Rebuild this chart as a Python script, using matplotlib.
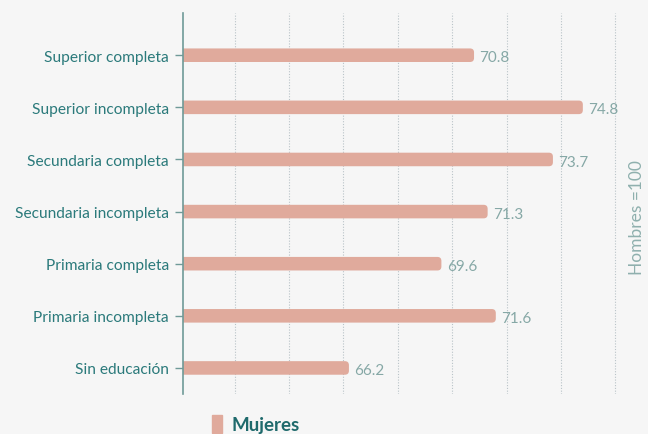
import matplotlib
matplotlib.use('Agg')
import matplotlib.pyplot as plt
from matplotlib.patches import Patch, FancyBboxPatch

# chart data
categories = ['Superior completa', 'Superior incompleta', 'Secundaria completa',
              'Secundaria incompleta', 'Primaria completa', 'Primaria incompleta',
              'Sin educación']
mujeres = [70.8, 74.8, 73.7, 71.3, 69.6, 71.6, 66.2]
grid_ticks = [62, 64, 66, 68, 70, 72, 74, 76]

# colours
bg = '#f6f6f6'
bar_color = '#e0aa9c'
label_color = '#2b7a7b'
value_color = '#86a8a6'
axis_color = '#6f9a98'

plt.rcParams['font.family'] = ['Lato', 'DejaVu Sans']

fig = plt.figure(figsize=(6.48, 4.35), dpi=100, facecolor=bg)
ax = fig.add_axes([183 / 648, 1 - 395 / 435, (625 - 183) / 648, (395 - 14) / 435])
ax.set_facecolor(bg)

left = 60.1
xmax = 76.35
ymin, ymax = 6.5, -0.81
ypos = list(range(len(categories)))
bars = ax.barh(ypos, [v - left for v in mujeres], left=left, height=0.26,
               color=bar_color, zorder=3)

# rounded right ends: swap each bar for a rounded box (left end hidden under the axis)
px_x = (xmax - left) / 442.0
px_y = abs(ymin - ymax) / 381.0
for b in bars:
    b.set_visible(False)
    x0 = b.get_x() - 0.5
    p = FancyBboxPatch((x0, b.get_y()), b.get_width() + 0.5, b.get_height(),
                       boxstyle='round,pad=0,rounding_size=%f' % (4 * px_x),
                       mutation_aspect=px_y / px_x,
                       facecolor=bar_color, edgecolor='none', zorder=3)
    ax.add_patch(p)

# value labels
for y, v in zip(ypos, mujeres):
    ax.text(v + 0.2, y + 0.04, f'{v}', va='center', ha='left',
            fontsize=11, color=value_color, zorder=4)

ax.set_xlim(left, xmax)
ax.set_ylim(ymin, ymax)
ax.set_xticks(grid_ticks)
ax.tick_params(axis='x', length=0, labelbottom=False)
ax.set_yticks(ypos)
ax.set_yticklabels(categories, fontsize=11.2, color=label_color)
ax.tick_params(axis='y', length=6, width=1, color=axis_color, pad=4)

ax.grid(axis='x', linestyle=(0, (1, 1.5)), color='#b9c3c8', linewidth=0.8, zorder=0)
for side in ['top', 'right', 'bottom']:
    ax.spines[side].set_visible(False)
ax.spines['left'].set_color(axis_color)
ax.spines['left'].set_linewidth(1.2)
ax.spines['left'].set_zorder(5)

# right hand note
fig.text(637 / 648, 1 - 218 / 435, 'Hombres =100', rotation=90, va='center',
         ha='center', fontsize=12.5, color='#8fb0ae')

# legend
leg = fig.legend(handles=[Patch(color=bar_color, label='Mujeres')],
                 loc='center', bbox_to_anchor=(256 / 648, 1 - 425 / 435),
                 frameon=False, handlelength=0.55, handleheight=1.1,
                 handletextpad=0.5, prop={'size': 13.5, 'weight': 'bold'})
for t in leg.get_texts():
    t.set_color('#1f6a6c')

fig.savefig('out.png', dpi=100, facecolor=bg)
